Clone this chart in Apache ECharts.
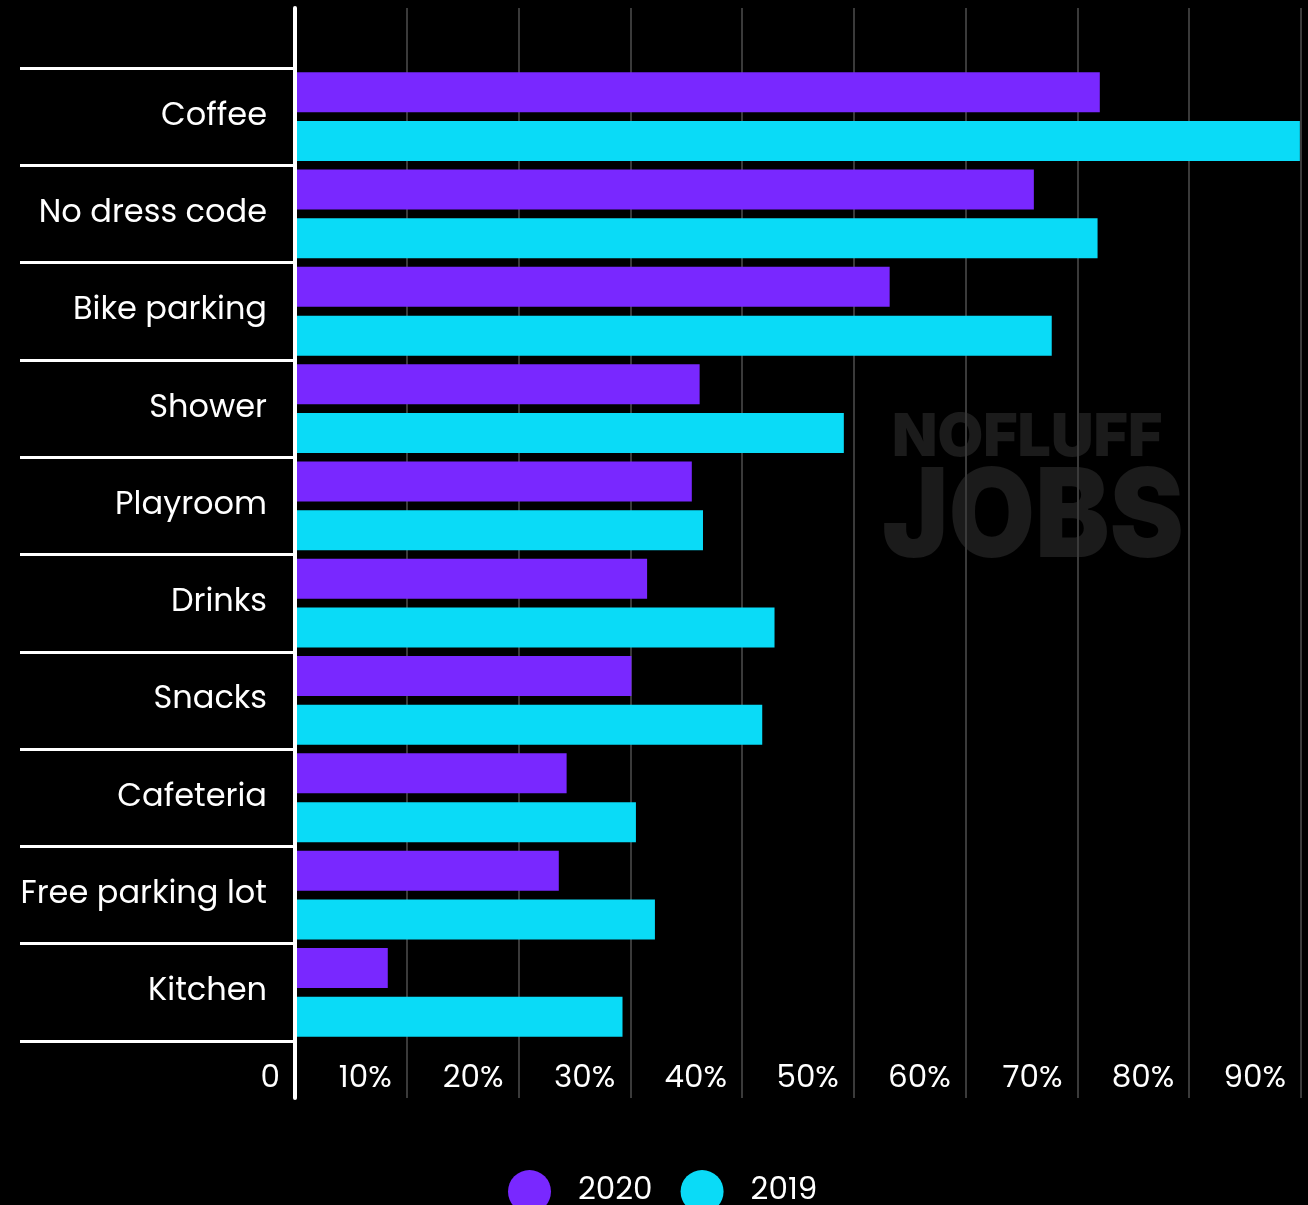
<!DOCTYPE html>
<html>
<head>
<meta charset="utf-8">
<script src="https://cdn.jsdelivr.net/npm/echarts@6/dist/echarts.min.js"></script>
<style>
html,body{margin:0;padding:0;background:#000;}
#chart{width:1308px;height:1205px;}
</style>
</head>
<body>
<div id="chart"></div>
<script>
const categories = ['Coffee','No dress code','Bike parking','Shower','Playroom','Drinks','Snacks','Cafeteria','Free parking lot','Kitchen'];
const values2020 = [72.0, 66.1, 53.2, 36.2, 35.5, 31.5, 30.1, 24.3, 23.6, 8.3];
const values2019 = [89.9, 71.8, 67.7, 49.1, 36.5, 42.9, 41.8, 30.5, 32.2, 29.3];
const seriesNames = ['2020','2019'];
const xMin = 0, xMax = 90, xStep = 10;

const FONT = 'Poppins, Lato, sans-serif';
const chart = echarts.init(document.getElementById('chart'), null, {renderer:'canvas'});
chart.setOption({
  backgroundColor:'#000',
  animation:false,
  graphic:[
    {type:'text', left:892, top:409, z:-10, style:{text:'NOFLUFF', fill:'#1b1b1b', font:'900 59px Inter, sans-serif'}},
    {type:'text', x:882, y:458, scaleX:0.9, z:-10, style:{text:'JOBS', fill:'#1b1b1b', font:'900 124px Inter, sans-serif'}}
  ],
  grid:[
    {left:295, right:7, top:68, bottom:164},
    {left:295, right:7, top:8, bottom:107}
  ],
  legend:{
    data:seriesNames,
    top:1165, left:503,
    icon:'circle', itemWidth:43, itemHeight:43, itemGap:28,
    textStyle:{color:'#fff', fontSize:31, fontFamily:FONT, padding:[0,0,0,22]}
  },
  xAxis:[
    {gridIndex:0, type:'value', min:xMin, max:xMax, interval:xStep, show:false},
    {gridIndex:1, type:'value', min:xMin, max:xMax, interval:xStep,
     axisLine:{show:false}, axisTick:{show:false},
     splitLine:{show:true, lineStyle:{color:'#3a3a3a', width:2}},
     axisLabel:{inside:true, margin:19, verticalAlign:'middle', align:'right', padding:[0,15,0,0],
       color:'#fff', fontSize:31, fontFamily:FONT,
       formatter:v => v===0 ? '0' : v+'%'}}
  ],
  yAxis:[
    {gridIndex:0, type:'category', data:categories, inverse:true,
     axisLine:{show:false},
     axisTick:{show:true, length:275, lineStyle:{color:'#fff', width:3}},
     axisLabel:{color:'#fff', fontSize:32, fontFamily:FONT, margin:28, verticalAlign:'middle', lineHeight:36, padding:[5,0,0,0]},
     splitLine:{show:false}},
    {gridIndex:1, type:'value', z:5,
     axisLine:{show:true, onZero:false, lineStyle:{color:'#fff', width:4}},
     axisTick:{show:false}, axisLabel:{show:false}, splitLine:{show:false}}
  ],
  series:[
    {name:seriesNames[0], type:'bar', xAxisIndex:0, yAxisIndex:0, data:values2020,
     barWidth:40, barGap:'22%', itemStyle:{color:'#7928ff'}},
    {name:seriesNames[1], type:'bar', xAxisIndex:0, yAxisIndex:0, data:values2019,
     barWidth:40, barGap:'22%', itemStyle:{color:'#0adbf7'}}
  ]
});
</script>
</body>
</html>
